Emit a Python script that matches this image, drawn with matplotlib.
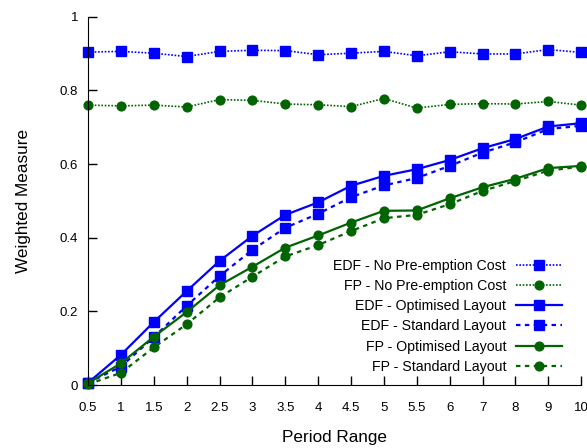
import numpy as np
import matplotlib
matplotlib.use("Agg")
import matplotlib.pyplot as plt

plt.rcParams['font.family'] = ['Liberation Sans', 'DejaVu Sans']

periods = ['0.5', '1', '1.5', '2', '2.5', '3', '3.5', '4', '4.5', '5', '5.5', '6', '7', '8', '9', '10']

edf_no_cost = [0.904, 0.906, 0.901, 0.892, 0.906, 0.909, 0.908, 0.897, 0.901, 0.906,
               0.894, 0.905, 0.899, 0.899, 0.911, 0.903]
fp_no_cost = [0.760, 0.758, 0.760, 0.755, 0.775, 0.773, 0.763, 0.761, 0.756, 0.778,
              0.752, 0.762, 0.764, 0.763, 0.770, 0.760]
edf_opt = [0.006, 0.082, 0.171, 0.255, 0.337, 0.405, 0.462, 0.496, 0.541, 0.568,
           0.586, 0.611, 0.643, 0.668, 0.702, 0.711]
edf_std = [0.006, 0.050, 0.130, 0.215, 0.296, 0.367, 0.427, 0.465, 0.510, 0.542,
           0.562, 0.595, 0.631, 0.659, 0.695, 0.704]
fp_opt = [0.005, 0.059, 0.131, 0.198, 0.271, 0.321, 0.373, 0.406, 0.441, 0.473,
          0.474, 0.507, 0.537, 0.560, 0.589, 0.595]
fp_std = [0.002, 0.033, 0.102, 0.165, 0.238, 0.294, 0.349, 0.380, 0.418, 0.453,
          0.462, 0.491, 0.527, 0.554, 0.582, 0.593]

blue = '#0000ff'
green = '#006400'

fig = plt.figure(figsize=(5.87, 4.48), dpi=100)
ax = fig.add_axes([0.150, 0.1406, 0.840, 0.822])

x = np.arange(len(periods))

dotted = (0, (1, 1))
dashed = (0, (2, 2))

ax.plot(x, edf_no_cost, color=blue, ls=dotted, lw=1.2, marker='s', ms=6.7,
        label='EDF - No Pre-emption Cost', clip_on=False)
ax.plot(x, fp_no_cost, color=green, ls=dotted, lw=1.2, marker='o', ms=6.3,
        label='FP - No Pre-emption Cost', clip_on=False)
ax.plot(x, edf_opt, color=blue, ls='-', lw=1.6, marker='s', ms=6.7,
        label='EDF - Optimised Layout', clip_on=False)
ax.plot(x, edf_std, color=blue, ls=dashed, lw=1.6, marker='s', ms=6.7,
        label='EDF - Standard Layout', clip_on=False)
ax.plot(x, fp_opt, color=green, ls='-', lw=1.6, marker='o', ms=6.3,
        label='FP - Optimised Layout', clip_on=False)
ax.plot(x, fp_std, color=green, ls=dashed, lw=1.6, marker='o', ms=6.3,
        label='FP - Standard Layout', clip_on=False)

ax.set_xlim(0, len(periods) - 1)
ax.set_ylim(0, 1)
ax.set_xticks(x)
ax.set_xticklabels(periods)
ax.set_yticks([0, 0.2, 0.4, 0.6, 0.8, 1])
ax.set_yticklabels(['0', '0.2', '0.4', '0.6', '0.8', '1'])
ax.tick_params(axis='both', direction='in', length=6.5, width=1, labelsize=9.5)
ax.tick_params(axis='x', pad=12)
ax.tick_params(axis='y', pad=7)

ax.spines['top'].set_visible(False)
ax.spines['right'].set_visible(False)

ax.set_xlabel('Period Range', fontsize=12.3, labelpad=12)
ax.set_ylabel('Weighted Measure', fontsize=12.3, labelpad=21)

leg = ax.legend(loc='lower right', bbox_to_anchor=(0.987, -0.004), markerfirst=False,
                frameon=False, fontsize=10.2, handlelength=3.24, labelspacing=0.44,
                handletextpad=0.7, borderpad=0.4)
for t in leg.get_texts():
    t.set_ha('right')
leg._legend_box.align = 'right'

fig.savefig('out.png', dpi=100)
